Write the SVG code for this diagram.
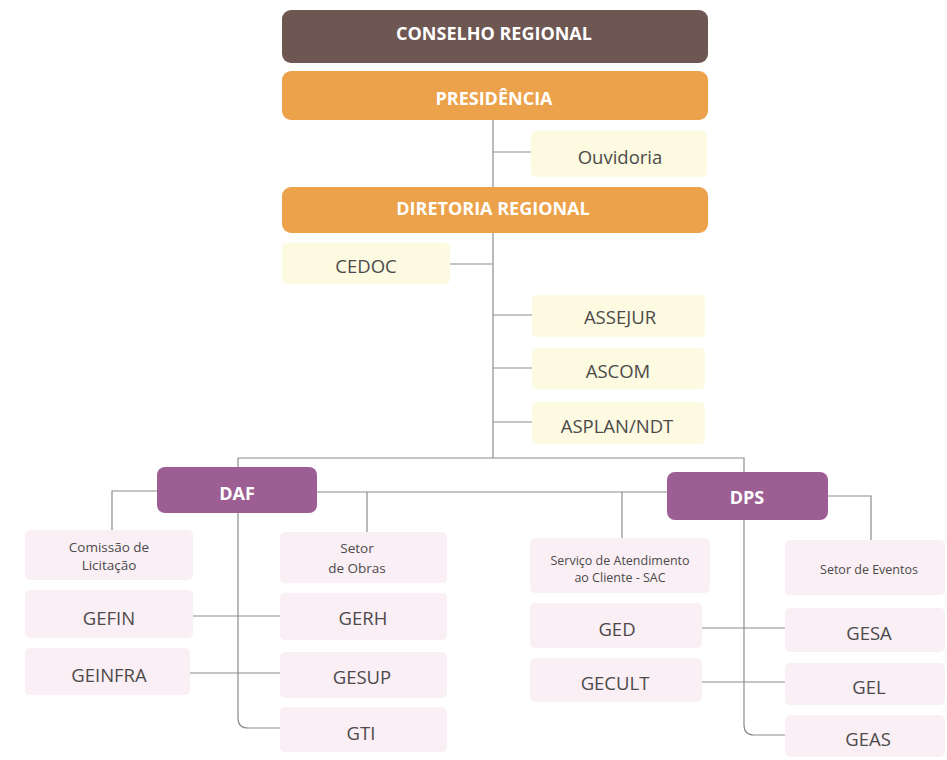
<svg xmlns="http://www.w3.org/2000/svg" width="947" height="760" viewBox="0 0 947 760">
<style>
.t{font-family:"Open Sans","Liberation Sans",sans-serif;text-anchor:middle;dominant-baseline:central}
.hw{fill:#ffffff;font-weight:bold;font-size:18px}
.g{fill:#4d4a4a;font-size:18.5px}
.gs{fill:#4d4a4a;font-size:13.5px}
.gx{fill:#4d4a4a;font-size:12.5px}
.brown{fill:#6e5753}
.orange{fill:#eca24a}
.purple{fill:#9d5f93}
.yel{fill:#fcfae1}
.pink{fill:#f9eff5}
.c{fill:none;stroke:#8c8c8c;stroke-width:1.2}
</style>
<rect width="947" height="760" fill="#ffffff"/>
<g id="connectors">
<path class="c" d="M493 120 V458"/>
<path class="c" d="M493 152 H531"/>
<path class="c" d="M450 264 H493"/>
<path class="c" d="M493 315 H532"/>
<path class="c" d="M493 368 H532"/>
<path class="c" d="M493 422 H532"/>
<path class="c" d="M238 458 H744 V472"/>
<path class="c" d="M238 458 V718 Q238 728 248 728 H280"/>
<path class="c" d="M744 520 V725 Q744 735 754 735 H785"/>
<path class="c" d="M157 491 H112 V530"/>
<path class="c" d="M317 492 H667"/>
<path class="c" d="M367 492 V532"/>
<path class="c" d="M622 492 V538"/>
<path class="c" d="M828 496 H871 V540"/>
<path class="c" d="M193 616 H280"/>
<path class="c" d="M190 673 H280"/>
<path class="c" d="M702 628 H785"/>
<path class="c" d="M702 682 H785"/>
</g>
<g id="conselho"><rect class="brown" x="282" y="10" width="426" height="53" rx="9"/><text class="t hw" x="494" y="33">CONSELHO REGIONAL</text></g>
<g id="presidencia"><rect class="orange" x="282" y="71" width="426" height="49" rx="9"/><text class="t hw" x="494" y="98">PRESIDÊNCIA</text></g>
<g id="ouvidoria"><rect class="yel" x="531" y="131" width="176" height="46" rx="5"/><text class="t g" x="620" y="156">Ouvidoria</text></g>
<g id="diretoria"><rect class="orange" x="282" y="187" width="426" height="46" rx="9"/><text class="t hw" x="493" y="208">DIRETORIA REGIONAL</text></g>
<g id="cedoc"><rect class="yel" x="282" y="243" width="168" height="41" rx="5"/><text class="t g" x="366" y="265">CEDOC</text></g>
<g id="assejur"><rect class="yel" x="532" y="295" width="173" height="42" rx="5"/><text class="t g" x="620" y="316">ASSEJUR</text></g>
<g id="ascom"><rect class="yel" x="532" y="348" width="173" height="41" rx="5"/><text class="t g" x="618" y="370">ASCOM</text></g>
<g id="asplan"><rect class="yel" x="532" y="402" width="173" height="42" rx="5"/><text class="t g" x="617" y="425">ASPLAN/NDT</text></g>
<g id="daf"><rect class="purple" x="157" y="467" width="160" height="46" rx="8"/><text class="t hw" x="237" y="493">DAF</text></g>
<g id="dps"><rect class="purple" x="667" y="472" width="161" height="48" rx="8"/><text class="t hw" x="747" y="497">DPS</text></g>
<g id="comissao"><rect class="pink" x="25" y="530" width="168" height="50" rx="5"/><text class="t gs" x="109" y="547">Comissão de</text><text class="t gs" x="109" y="565">Licitação</text></g>
<g id="gefin"><rect class="pink" x="25" y="590" width="168" height="48" rx="5"/><text class="t g" x="109" y="617">GEFIN</text></g>
<g id="geinfra"><rect class="pink" x="25" y="648" width="165" height="47" rx="5"/><text class="t g" x="109" y="674">GEINFRA</text></g>
<g id="obras"><rect class="pink" x="280" y="532" width="167" height="51" rx="5"/><text class="t gs" x="357" y="548">Setor</text><text class="t gs" x="357" y="568">de Obras</text></g>
<g id="gerh"><rect class="pink" x="280" y="593" width="167" height="47" rx="5"/><text class="t g" x="363" y="617">GERH</text></g>
<g id="gesup"><rect class="pink" x="280" y="652" width="167" height="46" rx="5"/><text class="t g" x="362" y="676">GESUP</text></g>
<g id="gti"><rect class="pink" x="280" y="707" width="167" height="45" rx="5"/><text class="t g" x="361" y="732">GTI</text></g>
<g id="sac"><rect class="pink" x="530" y="538" width="180" height="55" rx="5"/><text class="t gx" x="620" y="560">Serviço de Atendimento</text><text class="t gx" x="620" y="577">ao Cliente - SAC</text></g>
<g id="ged"><rect class="pink" x="530" y="603" width="172" height="45" rx="5"/><text class="t g" x="617" y="628">GED</text></g>
<g id="gecult"><rect class="pink" x="530" y="658" width="172" height="44" rx="5"/><text class="t g" x="615" y="682">GECULT</text></g>
<g id="eventos"><rect class="pink" x="785" y="540" width="160" height="55" rx="5"/><text class="t gx" x="869" y="569">Setor de Eventos</text></g>
<g id="gesa"><rect class="pink" x="785" y="608" width="160" height="44" rx="5"/><text class="t g" x="869" y="632">GESA</text></g>
<g id="gel"><rect class="pink" x="785" y="663" width="160" height="42" rx="5"/><text class="t g" x="869" y="686">GEL</text></g>
<g id="geas"><rect class="pink" x="785" y="715" width="160" height="42" rx="5"/><text class="t g" x="868" y="738">GEAS</text></g>
</svg>
